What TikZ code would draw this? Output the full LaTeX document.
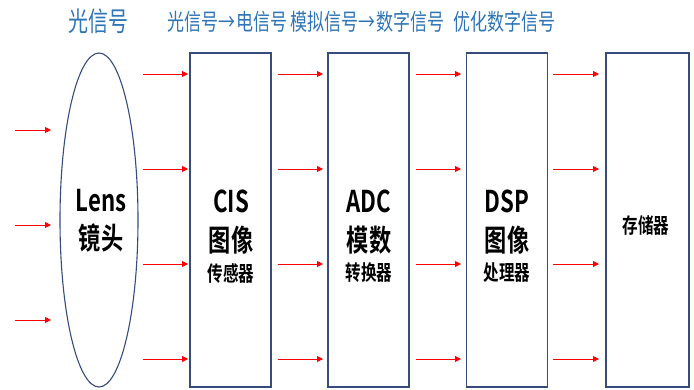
\documentclass[tikz,border=0pt]{standalone}
\usepackage{fontspec}
\usetikzlibrary{shapes.geometric,arrows.meta}
\newfontfamily\cjkb[FakeStretch=0.74]{Noto Sans CJK SC Bold}
\newfontfamily\cjkr[FakeStretch=0.74]{Noto Sans CJK SC}
\definecolor{lblblue}{RGB}{46,117,182}
\definecolor{navy}{RGB}{55,75,125}
\tikzset{
  frame/.style={draw=navy,line width=1.1pt,minimum height=334pt,inner sep=0pt},
  arr/.style={draw=red,line width=0.9pt,-{Triangle[length=6pt,width=6pt]}},
  big/.style={font=\cjkb\fontsize{30}{30}\selectfont,inner sep=0pt},
  small/.style={font=\cjkb\fontsize{21}{21}\selectfont,inner sep=0pt},
  toplbl/.style={font=\cjkr\fontsize{23}{23}\selectfont,text=lblblue,inner sep=0pt},
}
\begin{document}
\begin{tikzpicture}[x=1pt,y=-1pt]
\useasboundingbox (0,0) rectangle (694,389);
\node[ellipse,draw=navy,line width=1.1pt,minimum width=78pt,minimum height=334pt,inner sep=0pt] (lens) at (99,220) {};
\node[frame,minimum width=81pt] (cis) at (230.5,220) {};
\node[frame,minimum width=81pt] (adc) at (368.5,220) {};
\node[frame,minimum width=81pt] (dsp) at (507,220) {};
\node[frame,minimum width=83pt] (mem) at (647.5,220) {};
% top labels
\node[toplbl,font=\cjkr\fontsize{27}{27}\selectfont] (t1) at (98.5,21) {光信号};
\node[toplbl] (t2) at (227.5,22) {光信号→电信号};
\node[toplbl] (t3) at (367.5,22) {模拟信号→数字信号};
\node[toplbl] (t4) at (504.5,22) {优化数字信号};
% box texts
\node[big] (l1) at (101,201) {Lens};
\node[big] (l2) at (101,238) {镜头};
\node[big] (c1) at (231,201) {CIS};
\node[big] (c2) at (231,240) {图像};
\node[small] (c3) at (231,273) {传感器};
\node[big] (a1) at (369,201) {ADC};
\node[big] (a2) at (369,240) {模数};
\node[small] (a3) at (369,273) {转换器};
\node[big] (d1) at (507,201) {DSP};
\node[big] (d2) at (507,240) {图像};
\node[small] (d3) at (507,273) {处理器};
\node[small] (m1) at (646,225) {存储器};
% incoming arrows
\foreach \i/\y in {1/130,2/225,3/320}{
  \coordinate (in\i s) at (15,\y);
  \coordinate (in\i e) at (51,\y);
  \draw[arr] (in\i s) -- (in\i e);
}
% arrows between stages
\foreach \k/\xs/\xe in {a/143/188,b/278/323,c/416/461,d/553/599}{
  \foreach \i/\y in {1/74,2/169,3/264,4/359}{
    \coordinate (\k\i s) at (\xs,\y);
    \coordinate (\k\i e) at (\xe,\y);
    \draw[arr] (\k\i s) -- (\k\i e);
  }
}
\end{tikzpicture}
\end{document}
